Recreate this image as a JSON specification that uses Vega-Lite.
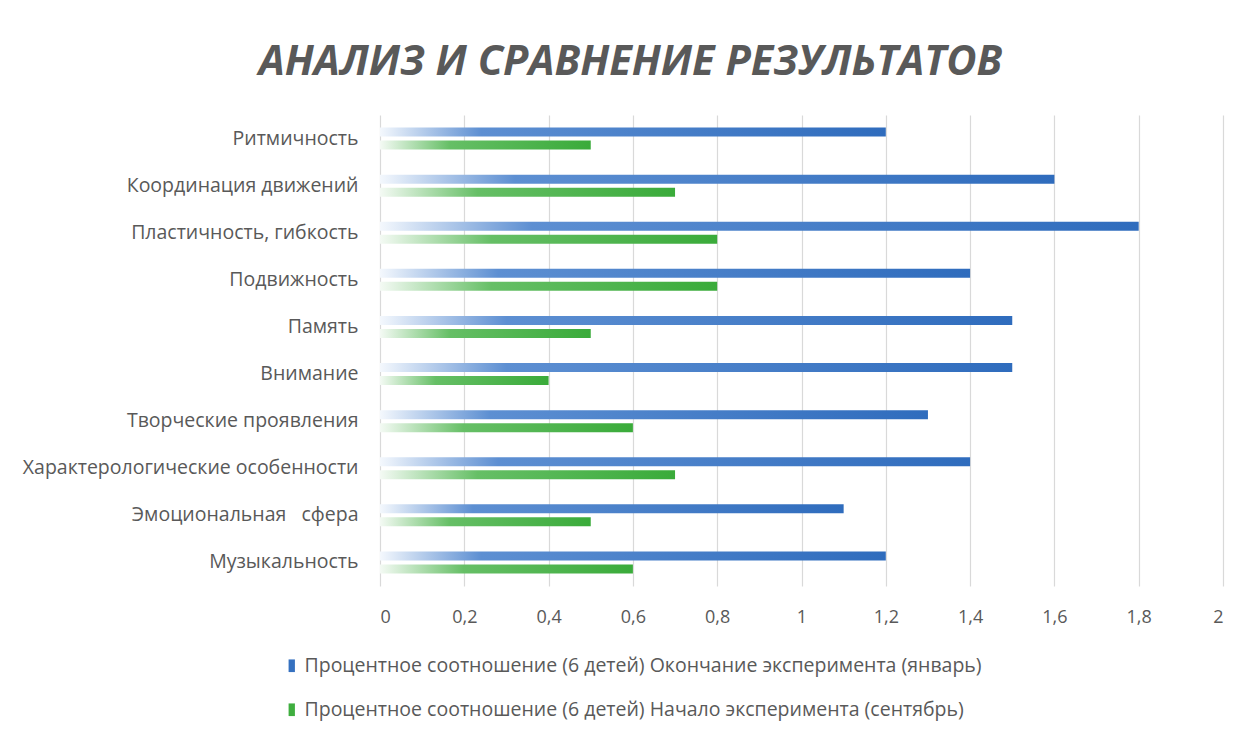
{
  "$schema": "https://vega.github.io/schema/vega-lite/v6.json",
  "width": 843,
  "height": 471,
  "autosize": {"type": "none"},
  "padding": {"left": 380, "top": 115, "right": 21, "bottom": 147},
  "background": "#ffffff",
  "title": {
    "text": "АНАЛИЗ И СРАВНЕНИЕ РЕЗУЛЬТАТОВ",
    "font": "Open Sans",
    "fontSize": 41.5,
    "fontStyle": "italic",
    "fontWeight": "bold",
    "color": "#595959",
    "anchor": "middle",
    "dx": -171,
    "offset": 32
  },
  "data": {
    "values": [
      {"category": "Ритмичность", "series": "Процентное соотношение (6 детей) Окончание эксперимента (январь)", "value": 1.2},
      {"category": "Координация движений", "series": "Процентное соотношение (6 детей) Окончание эксперимента (январь)", "value": 1.6},
      {"category": "Пластичность, гибкость", "series": "Процентное соотношение (6 детей) Окончание эксперимента (январь)", "value": 1.8},
      {"category": "Подвижность", "series": "Процентное соотношение (6 детей) Окончание эксперимента (январь)", "value": 1.4},
      {"category": "Память", "series": "Процентное соотношение (6 детей) Окончание эксперимента (январь)", "value": 1.5},
      {"category": "Внимание", "series": "Процентное соотношение (6 детей) Окончание эксперимента (январь)", "value": 1.5},
      {"category": "Творческие проявления", "series": "Процентное соотношение (6 детей) Окончание эксперимента (январь)", "value": 1.3},
      {"category": "Характерологические особенности", "series": "Процентное соотношение (6 детей) Окончание эксперимента (январь)", "value": 1.4},
      {"category": "Эмоциональная\u00a0\u00a0 сфера", "series": "Процентное соотношение (6 детей) Окончание эксперимента (январь)", "value": 1.1},
      {"category": "Музыкальность", "series": "Процентное соотношение (6 детей) Окончание эксперимента (январь)", "value": 1.2},
      {"category": "Ритмичность", "series": "Процентное соотношение (6 детей) Начало эксперимента (сентябрь)", "value": 0.5},
      {"category": "Координация движений", "series": "Процентное соотношение (6 детей) Начало эксперимента (сентябрь)", "value": 0.7},
      {"category": "Пластичность, гибкость", "series": "Процентное соотношение (6 детей) Начало эксперимента (сентябрь)", "value": 0.8},
      {"category": "Подвижность", "series": "Процентное соотношение (6 детей) Начало эксперимента (сентябрь)", "value": 0.8},
      {"category": "Память", "series": "Процентное соотношение (6 детей) Начало эксперимента (сентябрь)", "value": 0.5},
      {"category": "Внимание", "series": "Процентное соотношение (6 детей) Начало эксперимента (сентябрь)", "value": 0.4},
      {"category": "Творческие проявления", "series": "Процентное соотношение (6 детей) Начало эксперимента (сентябрь)", "value": 0.6},
      {"category": "Характерологические особенности", "series": "Процентное соотношение (6 детей) Начало эксперимента (сентябрь)", "value": 0.7},
      {"category": "Эмоциональная\u00a0\u00a0 сфера", "series": "Процентное соотношение (6 детей) Начало эксперимента (сентябрь)", "value": 0.5},
      {"category": "Музыкальность", "series": "Процентное соотношение (6 детей) Начало эксперимента (сентябрь)", "value": 0.6}
    ]
  },
  "encoding": {
    "y": {
      "field": "category",
      "type": "nominal",
      "sort": null,
      "scale": {"paddingInner": 0.532, "paddingOuter": 0.266},
      "axis": {
        "title": null,
        "domain": false,
        "ticks": false,
        "labelPadding": 22,
        "labelLimit": 400,
        "labelFont": "Open Sans",
        "labelFontSize": 19.5,
        "labelColor": "#595959"
      }
    },
    "yOffset": {
      "field": "series",
      "type": "nominal",
      "sort": null,
      "scale": {
        "domain": [
          "Процентное соотношение (6 детей) Окончание эксперимента (январь)",
          "Процентное соотношение (6 детей) Начало эксперимента (сентябрь)"
        ],
        "paddingInner": 0.31,
        "paddingOuter": 0
      }
    },
    "x": {
      "field": "value",
      "type": "quantitative",
      "scale": {"domain": [0, 2], "nice": false},
      "axis": {
        "title": null,
        "values": [0, 0.2, 0.4, 0.6, 0.8, 1, 1.2, 1.4, 1.6, 1.8, 2],
        "labelExpr": "replace(format(datum.value, '~g'), '.', ',')",
        "domain": false,
        "ticks": false,
        "grid": true,
        "gridColor": "#d9d9d9",
        "gridWidth": 1.2,
        "labelPadding": 22,
        "labelFont": "Open Sans",
        "labelFontSize": 18,
        "labelColor": "#595959"
      }
    }
  },
  "layer": [
    {
      "mark": {"type": "bar", "opacity": 0},
      "encoding": {
        "color": {
          "field": "series",
          "type": "nominal",
          "sort": null,
          "scale": {
            "domain": [
              "Процентное соотношение (6 детей) Окончание эксперимента (январь)",
              "Процентное соотношение (6 детей) Начало эксперимента (сентябрь)"
            ],
            "range": ["#3571c0", "#3fae3f"]
          },
          "legend": {
            "title": null,
            "orient": "none",
            "legendX": -98,
            "legendY": 541,
            "direction": "vertical",
            "symbolType": "M-0.5,-1H0.5V1H-0.5Z",
            "symbolSize": 160,
            "symbolOpacity": 1,
            "symbolStrokeWidth": 0,
            "labelFont": "Open Sans",
            "labelFontSize": 19.5,
            "labelColor": "#595959",
            "labelLimit": 1000,
            "labelOffset": 3,
            "rowPadding": 23
          }
        }
      }
    },
    {
      "transform": [{"filter": "indexof(datum.series, 'январь') >= 0"}],
      "mark": {
        "type": "bar",
        "fill": {
          "gradient": "linear",
          "x1": 0, "y1": 0, "x2": 1, "y2": 0,
          "stops": [
            {"offset": 0, "color": "#f4f8fd"},
            {"offset": 0.2, "color": "#5d8fd2"},
            {"offset": 1, "color": "#2f6cbd"}
          ]
        }
      }
    },
    {
      "transform": [{"filter": "indexof(datum.series, 'сентябрь') >= 0"}],
      "mark": {
        "type": "bar",
        "fill": {
          "gradient": "linear",
          "x1": 0, "y1": 0, "x2": 1, "y2": 0,
          "stops": [
            {"offset": 0, "color": "#f4faf4"},
            {"offset": 0.33, "color": "#66bf66"},
            {"offset": 1, "color": "#3aab3a"}
          ]
        }
      }
    }
  ],
  "config": {
    "view": {"stroke": null}
  }
}
